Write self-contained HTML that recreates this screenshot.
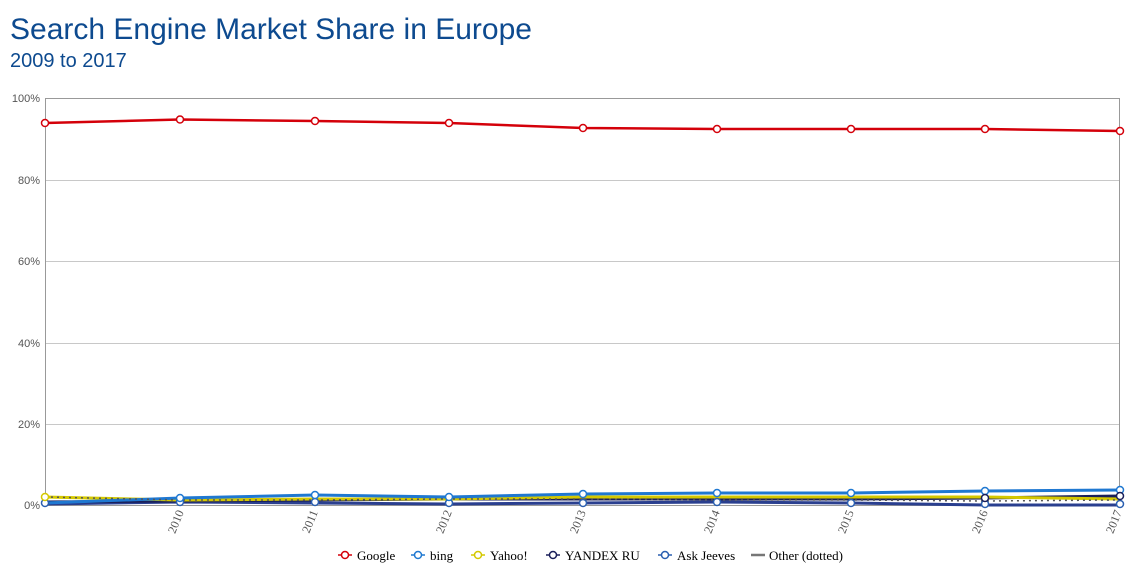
<!DOCTYPE html>
<html><head><meta charset="utf-8"><style>
body{margin:0;background:#fff;width:1147px;height:577px;overflow:hidden;font-family:"Liberation Sans",sans-serif}
</style></head><body>
<svg width="1147" height="577" xmlns="http://www.w3.org/2000/svg">
<text x="10" y="39" font-size="30" fill="#0d4a8f" font-family="Liberation Sans">Search Engine Market Share in Europe</text>
<text x="10" y="67" font-size="20" fill="#0d4a8f" font-family="Liberation Sans">2009 to 2017</text>
<g stroke="#c8c8c8" stroke-width="1">
<line x1="45" y1="180.5" x2="1120" y2="180.5"/><line x1="45" y1="261.5" x2="1120" y2="261.5"/>
<line x1="45" y1="343.5" x2="1120" y2="343.5"/><line x1="45" y1="424.5" x2="1120" y2="424.5"/>
</g>
<rect x="45.5" y="98.5" width="1074" height="407" fill="none" stroke="#999"/>
<g font-size="11" fill="#555" text-anchor="end" font-family="Liberation Sans">
<text x="40" y="102">100%</text><text x="40" y="184">80%</text><text x="40" y="265">60%</text>
<text x="40" y="347">40%</text><text x="40" y="428">20%</text><text x="40" y="509">0%</text>
</g>
<g font-size="12" fill="#555" font-family="Liberation Serif" text-anchor="end">
<text transform="translate(184,512) rotate(-68)">2010</text>
<text transform="translate(318,512) rotate(-68)">2011</text>
<text transform="translate(452,512) rotate(-68)">2012</text>
<text transform="translate(586,512) rotate(-68)">2013</text>
<text transform="translate(720,512) rotate(-68)">2014</text>
<text transform="translate(854,512) rotate(-68)">2015</text>
<text transform="translate(988,512) rotate(-68)">2016</text>
<text transform="translate(1122,512) rotate(-68)">2017</text>
</g>
<g fill="none" stroke-width="3">
<polyline stroke="#2a3f8f" points="45,504 180,502 315,503 449,504 583,503 717,502 851,503 985,505 1120,505"/>
<polyline stroke="#1a1f5a" points="45,502 180,501 315,500 449,499 583,499 717,499 851,499 985,498 1120,496"/>
<polyline stroke="#d4c800" points="45,497 180,500 315,499 449,499 583,497 717,497 851,497 985,497 1120,499"/>
<polyline stroke="#1f78d1" points="45,503 180,498 315,495 449,497 583,494 717,493 851,493 985,491 1120,490"/>
<polyline stroke="#555" stroke-width="1.5" stroke-dasharray="2,4" points="45,497 180,500 315,500 449,499 583,499 717,500 851,500 985,501 1120,500"/>
<polyline stroke="#d4000a" stroke-width="2.5" points="45,123 180,119.5 315,121 449,123 583,128 717,129 851,129 985,129 1120,131"/>
</g>
<g fill="#fff" stroke-width="1.5">
<g stroke="#2a5fb0"><circle cx="45" cy="503" r="3.5"/><circle cx="180" cy="502" r="3.5"/><circle cx="315" cy="502" r="3.5"/><circle cx="449" cy="503" r="3.5"/><circle cx="583" cy="503" r="3.5"/><circle cx="717" cy="502" r="3.5"/><circle cx="851" cy="503" r="3.5"/><circle cx="985" cy="504" r="3.5"/><circle cx="1120" cy="504" r="3.5"/></g>
<g stroke="#1f78d1"><circle cx="180" cy="498" r="3.5"/><circle cx="315" cy="495" r="3.5"/><circle cx="449" cy="497" r="3.5"/><circle cx="583" cy="494" r="3.5"/><circle cx="717" cy="493" r="3.5"/><circle cx="851" cy="493" r="3.5"/><circle cx="985" cy="491" r="3.5"/><circle cx="1120" cy="490" r="3.5"/></g>
<g stroke="#1a1f5a"><circle cx="985" cy="498" r="3.5"/><circle cx="1120" cy="496" r="3.5"/></g>
<g stroke="#d4c800"><circle cx="45" cy="497" r="3.5"/></g>
<g stroke="#d4000a"><circle cx="45" cy="123" r="3.5"/><circle cx="180" cy="119.5" r="3.5"/><circle cx="315" cy="121" r="3.5"/><circle cx="449" cy="123" r="3.5"/><circle cx="583" cy="128" r="3.5"/><circle cx="717" cy="129" r="3.5"/><circle cx="851" cy="129" r="3.5"/><circle cx="985" cy="129" r="3.5"/><circle cx="1120" cy="131" r="3.5"/></g>
</g>
<g font-size="13" fill="#000" font-family="Liberation Serif">
<g stroke-width="1.5" fill="#fff">
<line x1="338" y1="555" x2="352" y2="555" stroke="#d4000a"/><circle cx="345" cy="555" r="3.5" stroke="#d4000a"/>
<line x1="411" y1="555" x2="425" y2="555" stroke="#1f78d1"/><circle cx="418" cy="555" r="3.5" stroke="#1f78d1"/>
<line x1="471" y1="555" x2="485" y2="555" stroke="#d4c800"/><circle cx="478" cy="555" r="3.5" stroke="#d4c800"/>
<line x1="546" y1="555" x2="560" y2="555" stroke="#1a1f5a"/><circle cx="553" cy="555" r="3.5" stroke="#1a1f5a"/>
<line x1="658" y1="555" x2="672" y2="555" stroke="#2a5fb0"/><circle cx="665" cy="555" r="3.5" stroke="#2a5fb0"/>
<line x1="751" y1="555" x2="765" y2="555" stroke="#777" stroke-width="2.5"/>
</g>
<text x="357" y="560">Google</text><text x="430" y="560">bing</text><text x="490" y="560">Yahoo!</text>
<text x="565" y="560">YANDEX RU</text><text x="677" y="560">Ask Jeeves</text><text x="769" y="560">Other (dotted)</text>
</g>
</svg>
</body></html>
